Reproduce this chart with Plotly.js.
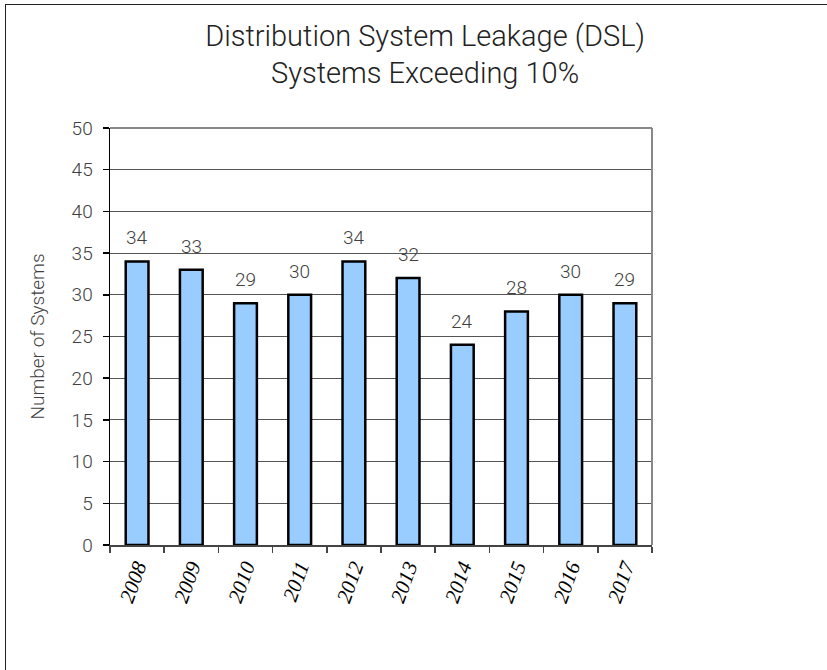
<!DOCTYPE html>
<html>
<head>
<meta charset="utf-8">
<script src="https://cdn.plot.ly/plotly-3.0.1.min.js"></script>
<style>
  html, body { margin: 0; padding: 0; background: #fff; }
  #wrap { position: relative; width: 827px; height: 670px; overflow: hidden; }
  #frame { position: absolute; left: 5px; top: 4px; width: 900px; height: 800px;
           border-left: 1px solid #222; border-top: 1px solid #222; pointer-events: none; }
  #chart { position: absolute; left: 0; top: 0; width: 827px; height: 670px; }
</style>
</head>
<body>
<div id="wrap">
  <div id="chart"></div>
  <div id="frame"></div>
</div>
<script>
const years = ['2008', '2009', '2010', '2011', '2012', '2013', '2014', '2015', '2016', '2017'];
const systems = [34, 33, 29, 30, 34, 32, 24, 28, 30, 29];
const yTicks = [0, 5, 10, 15, 20, 25, 30, 35, 40, 45, 50];

const sans = 'Roboto, Open Sans, DejaVu Sans, sans-serif';

const trace = {
  type: 'bar',
  x: years,
  y: systems,
  marker: { color: '#99CCFF', line: { color: '#000000', width: 2.5 } },
  hoverinfo: 'x+y'
};

// value labels: positioned on the category axis by index
const annotations = years.map((yr, i) => ({
  x: i, y: systems[i], xref: 'x', yref: 'y',
  text: String(systems[i]), showarrow: false,
  yanchor: 'bottom', yshift: 10,
  font: { family: sans, size: 19, color: '#404040', weight: 300 }
}));

const layout = {
  width: 827, height: 670,
  margin: { l: 110, r: 175, t: 128, b: 125 },
  paper_bgcolor: 'rgba(0,0,0,0)',
  plot_bgcolor: '#ffffff',
  showlegend: false,
  bargap: 0.58,
  title: {
    text: 'Distribution System Leakage (DSL)<br>Systems Exceeding 10%',
    font: { family: sans, size: 29, color: '#222222', weight: 300 },
    x: 0.514, xref: 'container', xanchor: 'center',
    y: 0.932, yref: 'container', yanchor: 'middle'
  },
  xaxis: {
    type: 'category',
    range: [-0.5, years.length - 0.5],
    tickson: 'boundaries',
    ticks: 'outside', ticklen: 6, tickcolor: '#444', tickwidth: 1.5,
    showline: true, linecolor: '#444', linewidth: 1.5,
    showgrid: false,
    tickangle: -70,
    tickfont: { family: 'Liberation Serif, Times New Roman, serif', size: 21, color: '#000', style: 'italic' }
  },
  yaxis: {
    range: [0, 50],
    tickvals: yTicks,
    ticktext: yTicks.map(String),
    ticks: 'outside', ticklen: 6, tickcolor: '#000', tickwidth: 1.5,
    showline: true, linecolor: '#000', linewidth: 1.5,
    showgrid: true, gridcolor: '#555', gridwidth: 1,
    zeroline: false,
    ticklabelstandoff: 6,
    tickfont: { family: sans, size: 19, color: '#404040', weight: 300 },
    title: { text: 'Number of Systems', font: { family: sans, size: 19, color: '#404040', weight: 300 }, standoff: 22 }
  },
  shapes: [
    { type: 'line', xref: 'paper', yref: 'paper', x0: 0, x1: 1, y0: 1, y1: 1, line: { color: '#888', width: 2 } },
    { type: 'line', xref: 'paper', yref: 'paper', x0: 1, x1: 1, y0: 0, y1: 1, line: { color: '#888', width: 2 } }
  ],
  annotations: annotations
};

Plotly.newPlot('chart', [trace], layout, { displayModeBar: false, staticPlot: true });
</script>
</body>
</html>
